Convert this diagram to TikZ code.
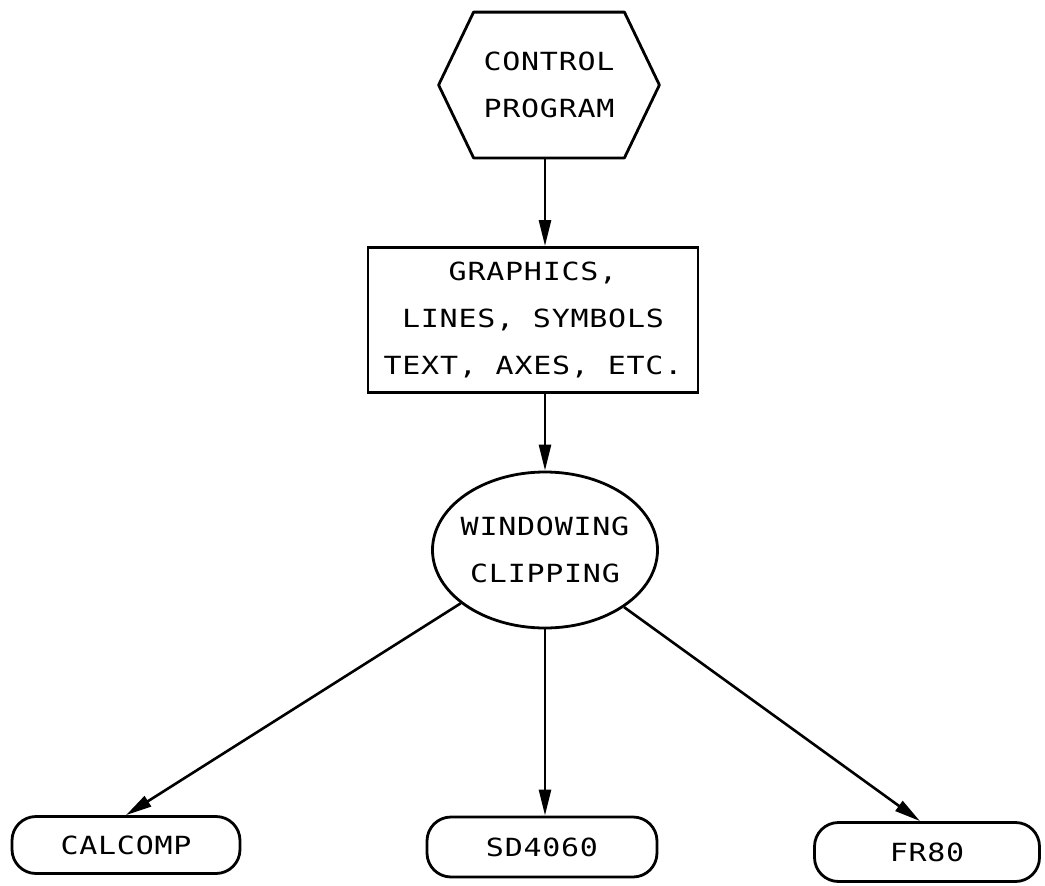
\documentclass[tikz,border=0pt]{standalone}
\usepackage{fontspec}
\newfontfamily\plotfont{DejaVu Sans Mono}[FakeStretch=1.2, LetterSpace=3]
\usetikzlibrary{shapes.geometric,arrows.meta}
\tikzset{
  box/.style={draw, line width=2.8pt, font=\plotfont\fontsize{25}{47}\selectfont, align=center, inner sep=0pt},
  devbox/.style={box, rounded corners=24pt},
  conn/.style={line width=2.6pt, -{Triangle[length=26pt,width=12pt]}}
}
\begin{document}
\begin{tikzpicture}[x=1pt,y=-1pt]
\useasboundingbox (0,0) rectangle (1045,886);
\node[box, draw=none, minimum width=218pt, minimum height=143pt] (hex) at (549,85) {CONTROL\\PROGRAM};
\draw[line width=2.8pt, line join=round] (hex.west) -- ([xshift=35pt]hex.north west) -- ([xshift=-35pt]hex.north east) -- (hex.east) -- ([xshift=-35pt]hex.south east) -- ([xshift=35pt]hex.south west) -- cycle;
\node[box, minimum width=330pt, minimum height=145pt] (gfx) at (533,320) {GRAPHICS,\\LINES, SYMBOLS\\TEXT, AXES, ETC.};
\node[box, ellipse, inner xsep=-30pt, minimum width=225pt, minimum height=156pt] (win) at (545,550) {WINDOWING\\CLIPPING};
\node[devbox, minimum width=228pt, minimum height=57pt] (cal) at (126,845) {CALCOMP};
\node[devbox, minimum width=230pt, minimum height=60pt] (sd) at (542,847) {SD4060};
\node[devbox, minimum width=225pt, minimum height=59pt] (fr) at (927,852) {FR80};
\draw[conn] (hex.south -| win.center) -- (gfx.north -| win.center);
\draw[conn] (gfx.south -| win.center) -- (win.north);
\draw[conn] (win) -- (cal.north);
\draw[conn] (win.south) -- (win.south |- sd.north);
\draw[conn] (win) -- ([xshift=-7pt]fr.north);
\end{tikzpicture}
\end{document}
